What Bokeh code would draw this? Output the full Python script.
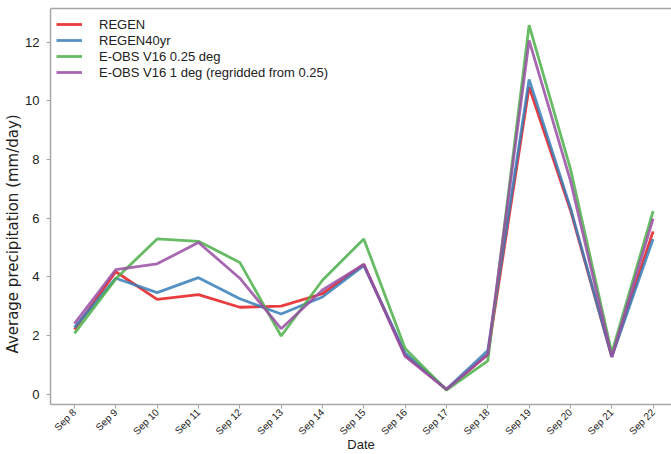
import math
from bokeh.plotting import figure
from bokeh.models import Range1d, FixedTicker, LinearAxis, Legend, LegendItem, Title
from bokeh.embed import file_html
from bokeh.resources import INLINE

# Daily mean precipitation, 8-22 September
dates = ["Sep 8", "Sep 9", "Sep 10", "Sep 11", "Sep 12", "Sep 13", "Sep 14", "Sep 15",
         "Sep 16", "Sep 17", "Sep 18", "Sep 19", "Sep 20", "Sep 21", "Sep 22"]
regen = [2.20, 4.17, 3.23, 3.39, 2.96, 3.00, 3.42, 4.42, 1.33, 0.16, 1.35, 10.47, 6.27, 1.27, 5.55]
regen40yr = [2.27, 3.95, 3.46, 3.97, 3.25, 2.73, 3.31, 4.38, 1.40, 0.16, 1.48, 10.73, 6.35, 1.27, 5.29]
eobs_025 = [2.07, 3.93, 5.29, 5.21, 4.49, 1.98, 3.88, 5.29, 1.55, 0.13, 1.13, 12.58, 7.68, 1.40, 6.24]
eobs_1 = [2.40, 4.24, 4.44, 5.17, 3.95, 2.23, 3.55, 4.42, 1.28, 0.16, 1.35, 12.06, 7.28, 1.27, 5.98]

series = [
    ("REGEN", regen, "#e41a1c"),
    ("REGEN40yr", regen40yr, "#377eb8"),
    ("E-OBS V16 0.25 deg", eobs_025, "#4daf4a"),
    ("E-OBS V16 1 deg (regridded from 0.25)", eobs_1, "#984ea3"),
]

x = list(range(len(dates)))
FONT = "Liberation Sans"
SPINE = "#a6a6a6"
TEXT = "#222222"

p = figure(width=671, height=454, output_backend="svg", toolbar_location=None,
           x_range=Range1d(-0.58, 14.445), y_range=Range1d(-0.357, 13.15),
           min_border_left=46, min_border_right=0, min_border_top=8, min_border_bottom=49)
p.outline_line_color = None
p.xgrid.visible = False
p.ygrid.visible = False

items = []
for name, vals, color in series:
    r = p.line(x, vals, line_color=color, line_width=2.8, line_alpha=0.85)
    items.append(LegendItem(label=name, renderers=[r]))

# axes styling
for ax in (p.xaxis[0], p.yaxis[0]):
    ax.axis_line_color = SPINE
    ax.axis_line_width = 1.5
    ax.major_tick_line_color = SPINE
    ax.major_tick_in = 0
    ax.major_tick_out = 4
    ax.minor_tick_line_color = None
    ax.major_label_text_font = FONT
    ax.major_label_text_color = TEXT
    ax.axis_label_text_font = FONT
    ax.axis_label_text_font_style = "normal"
    ax.axis_label_text_color = TEXT

p.yaxis[0].ticker = FixedTicker(ticks=[0, 2, 4, 6, 8, 10, 12])
p.yaxis[0].major_label_text_font_size = "13px"
p.yaxis[0].major_label_standoff = 7

p.xaxis[0].ticker = FixedTicker(ticks=x)
p.xaxis[0].major_label_overrides = {i: d for i, d in zip(x, dates)}
p.xaxis[0].major_label_orientation = math.pi / 4
p.xaxis[0].major_label_text_font_size = "10px"
p.xaxis[0].major_label_standoff = 2
p.xaxis[0].axis_label = "Date"
p.xaxis[0].axis_label_text_font_size = "13px"
p.xaxis[0].axis_label_standoff = -7

# y axis title as a side title, starting a fixed distance above the frame bottom
ytitle = Title(text="Average precipitation (mm/day)", align="left", offset=51,
               text_font="DejaVu Sans", text_font_size="15px", text_font_style="normal",
               text_color=TEXT, standoff=2)
p.add_layout(ytitle, "left")

# top spine
top = LinearAxis(ticker=FixedTicker(ticks=[]), axis_line_color=SPINE, axis_line_width=1.5,
                 major_tick_line_color=None, minor_tick_line_color=None,
                 major_label_text_font_size="0px")
p.add_layout(top, "above")

legend = Legend(items=items, location=(6, 324), border_line_color=None,
                background_fill_alpha=0, padding=0, margin=0, spacing=0,
                glyph_width=26, glyph_height=16, label_height=16, label_standoff=17,
                label_text_font=FONT, label_text_font_size="13px", label_text_color=TEXT)
p.add_layout(legend, "center")

open("out.html", "w").write(file_html(p, INLINE))
